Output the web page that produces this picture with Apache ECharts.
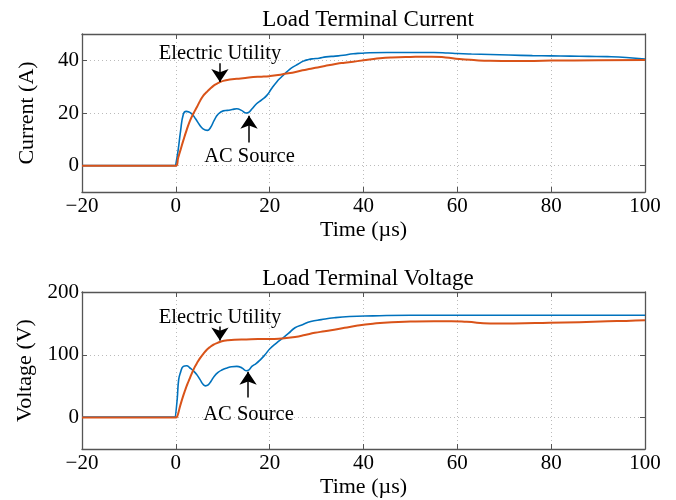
<!DOCTYPE html>
<html>
<head>
<meta charset="utf-8">
<script src="https://cdn.jsdelivr.net/npm/echarts@6/dist/echarts.min.js"></script>
<style>html,body{margin:0;padding:0;background:#fff;}#c{width:676px;height:500px;}</style>
</head>
<body>
<div id="c"></div>
<script>
// ---- Data (time in µs) ----
const xTicks = [-20, 0, 20, 40, 60, 80, 100];
const curTicks = [0, 20, 40];
const voltTicks = [0, 100, 200];

const tCurAC = [-20, -0.1, 0, 0.5, 1, 1.6, 2.2, 2.8, 3.5, 4.2, 5, 5.8, 6.7, 7.4, 8.2, 9, 10.1, 11, 12, 13, 14, 15, 15.5, 16.2, 17.2, 18.3, 19.4, 20.5, 21.5, 22.4, 23.3, 24.2, 25, 26, 27.2, 28.3, 29.3, 30.5, 32, 34, 35.7, 37.8, 39.5, 41.3, 45, 50, 55, 58, 60, 63, 67, 71, 76, 80, 84, 88, 92, 96, 100];
const iAC = [0, 0, 0.5, 6, 13, 19.5, 20.6, 20.4, 19.5, 17.8, 15.6, 14, 13.4, 14.5, 17.3, 19.5, 20.8, 21, 21.3, 21.6, 21, 20, 20.2, 21.5, 23.5, 25, 26.7, 29.5, 31.8, 33.5, 35, 36.5, 37.5, 38.5, 39.7, 40.3, 40.6, 40.8, 41.3, 41.6, 41.9, 42.5, 42.7, 42.9, 43, 43, 43, 42.8, 42.6, 42.4, 42.2, 42, 41.8, 41.7, 41.6, 41.5, 41.4, 41.1, 40.5];

const tCurEU = [-20, 0, 0.5, 1, 1.6, 2.3, 3.05, 3.8, 4.5, 5.2, 5.9, 6.6, 7.3, 8, 8.7, 9.4, 10.1, 11.5, 13, 14.8, 16.5, 18.3, 20, 21.8, 23.6, 25.3, 27, 28.8, 30.7, 32.5, 34.3, 36, 37.8, 39.6, 41.3, 43.5, 46, 50, 54.6, 57.5, 60.4, 63.5, 67, 72, 80, 90, 100];
const iEU = [0, 0, 3, 6, 9.6, 13.5, 17.2, 20, 22.3, 24.7, 26.7, 28, 29.2, 30.3, 31.1, 31.7, 32.2, 32.7, 33, 33.3, 33.7, 33.8, 34, 34.4, 35, 35.5, 36.2, 36.8, 37.5, 38.1, 38.7, 39.1, 39.5, 39.9, 40.3, 40.8, 41.1, 41.3, 41.4, 41.1, 40.5, 40.1, 39.8, 39.7, 39.9, 40, 40.1];

const tVoltAC = [-20, -0.1, 0, 0.3, 0.6, 1, 1.6, 2.3, 3, 3.8, 4.5, 5.2, 5.8, 6.3, 6.9, 7.5, 8.2, 9, 9.8, 10.9, 11.9, 13, 14.1, 15, 15.6, 16.2, 17.1, 18, 19, 20.1, 21.5, 22.5, 24, 25.4, 27, 28.75, 31, 33.75, 37, 42, 50, 60, 70, 80, 90, 100];
const vAC = [1, 1, 1, 30, 60, 72, 81.5, 82.5, 79, 74, 68, 60, 53, 50.5, 52, 58, 66, 72, 75.7, 79, 81, 81.5, 79, 74.6, 76, 81.5, 86, 92, 100, 110, 119, 125, 134, 143, 148, 153, 156, 159, 161, 162, 163, 163, 163, 163, 163, 163];

const tVoltEU = [-20, 0, 0.3, 0.9, 1.5, 2, 2.5, 3, 3.5, 4.1, 4.6, 5.2, 5.9, 6.6, 7.3, 8, 8.9, 9.8, 11, 12.5, 15, 17.5, 20, 22.5, 25.4, 27.5, 29.6, 31.7, 33.75, 36, 38.75, 42, 46, 50, 55, 58.75, 62, 67, 72, 79.6, 86, 92, 96, 100];
const vEU = [0, 0, 2, 18, 33, 44, 54, 63, 72, 81.5, 88, 95, 102, 108, 112.5, 116, 119, 121.5, 123, 124, 124.5, 125, 125, 126, 128.5, 131.5, 135, 137.5, 140, 143, 146.5, 149.5, 152, 153, 153.5, 153.5, 152.5, 150, 150, 151, 152, 153.5, 154, 155];

// annotation anchor points (data space): [time, value]
const curEUText = [9.4, 42.6], curEUArrow = [[9.4, 38.9], [9.4, 31.8]];
const curACText = [15.7, 3.5], curACArrow = [[15.6, 8.8], [15.6, 19]];
const voltEUText = [9.4, 159], voltEUArrow = [[9.4, 145], [9.4, 122.6]];
const voltACText = [15.5, 5], voltACArrow = [[15.4, 32], [15.4, 73]];

// ---- Chart ----
const FONT = 'Liberation Serif';
const BLUE = '#0072BD', ORANGE = '#D95319';
const AXC = '#555';
const pair = (xs, ys) => xs.map((x, i) => [x, ys[i]]);
const fmtX = v => (v < 0 ? '\u2212' + Math.abs(v) : String(v));

function xAxes(gi) {
  const base = {
    type: 'value', gridIndex: gi, min: -20, max: 100, interval: 20,
    axisLine: { show: true, onZero: false, lineStyle: { color: AXC, width: 1.3 } },
    axisTick: { show: true, inside: true, length: 5, lineStyle: { color: AXC } }
  };
  return [
    Object.assign({}, base, {
      position: 'bottom',
      name: 'Time (\u00b5s)', nameLocation: 'middle', nameGap: 27,
      nameTextStyle: { fontFamily: FONT, fontSize: 22, color: '#000' },
      axisLabel: { show: true, margin: 4, fontFamily: FONT, fontSize: 21, color: '#000', formatter: fmtX,
                   customValues: xTicks },
      splitLine: { show: true, lineStyle: { color: '#bbb', type: [1, 3], width: 1 } }
    }),
    Object.assign({}, base, { position: 'top', axisLabel: { show: false }, splitLine: { show: false } })
  ];
}
function yAxes(gi, min, max, ticks, name) {
  const base = {
    type: 'value', gridIndex: gi, min: min, max: max,
    axisLine: { show: true, onZero: false, lineStyle: { color: AXC, width: 1.3 } },
    axisTick: { show: true, inside: true, length: 5, lineStyle: { color: AXC }, customValues: ticks }
  };
  return [
    Object.assign({}, base, {
      position: 'left',
      name: name, nameLocation: 'middle', nameGap: 44,
      nameTextStyle: { fontFamily: FONT, fontSize: 22, color: '#000' },
      axisLabel: { show: true, margin: 3, fontFamily: FONT, fontSize: 21, color: '#000', customValues: ticks },
      splitLine: { show: true, lineStyle: { color: '#bbb', type: [1, 3], width: 1 } }
    }),
    Object.assign({}, base, { position: 'right', axisLabel: { show: false }, splitLine: { show: false } })
  ];
}
function annot(textPt, textStr, arrowPts) {
  return {
    markPoint: {
      silent: true, symbol: 'circle', symbolSize: 1, itemStyle: { color: 'rgba(0,0,0,0)' },
      label: { show: true, position: 'inside', fontFamily: FONT, fontSize: 20.5, color: '#000', formatter: '{b}' },
      data: [{ name: textStr, coord: textPt }]
    },
    markLine: {
      silent: true, symbol: ['none', 'arrow'], symbolSize: 13, animation: false,
      lineStyle: { color: '#000', width: 1.5, type: 'solid' }, label: { show: false },
      data: [[{ coord: arrowPts[0] }, { coord: arrowPts[1] }]]
    }
  };
}
function lineSeries(xi, yi, data, color, width, extra) {
  return Object.assign({
    type: 'line', xAxisIndex: xi, yAxisIndex: yi, data: data, showSymbol: false,
    smooth: 0.5, lineStyle: { color: color, width: width }, itemStyle: { color: color },
    animation: false, z: 3
  }, extra || {});
}

const chart = echarts.init(document.getElementById('c'), null, { renderer: 'canvas' });
chart.setOption({
  backgroundColor: '#fff',
  animation: false,
  title: [
    { text: 'Load Terminal Current', left: 363, top: 3, textAlign: 'center',
      textStyle: { fontFamily: FONT, fontSize: 23, fontWeight: 'normal', color: '#000' } },
    { text: 'Load Terminal Voltage', left: 363, top: 262, textAlign: 'center',
      textStyle: { fontFamily: FONT, fontSize: 23, fontWeight: 'normal', color: '#000' } }
  ],
  grid: [
    { left: 82, right: 31, top: 34, height: 158 },
    { left: 82, right: 31, top: 292, height: 157 }
  ],
  xAxis: xAxes(0).concat(xAxes(1)),
  yAxis: yAxes(0, -10, 50, curTicks, 'Current (A)').concat(yAxes(1, -50, 200, voltTicks, 'Voltage (V)')),
  series: [
    lineSeries(0, 0, pair(tCurAC, iAC), BLUE, 1.6, annot(curACText, 'AC Source', curACArrow)),
    lineSeries(0, 0, pair(tCurEU, iEU), ORANGE, 2, annot(curEUText, 'Electric Utility', curEUArrow)),
    lineSeries(2, 2, pair(tVoltAC, vAC), BLUE, 1.6, annot(voltACText, 'AC Source', voltACArrow)),
    lineSeries(2, 2, pair(tVoltEU, vEU), ORANGE, 2, annot(voltEUText, 'Electric Utility', voltEUArrow))
  ]
});
</script>
</body>
</html>
